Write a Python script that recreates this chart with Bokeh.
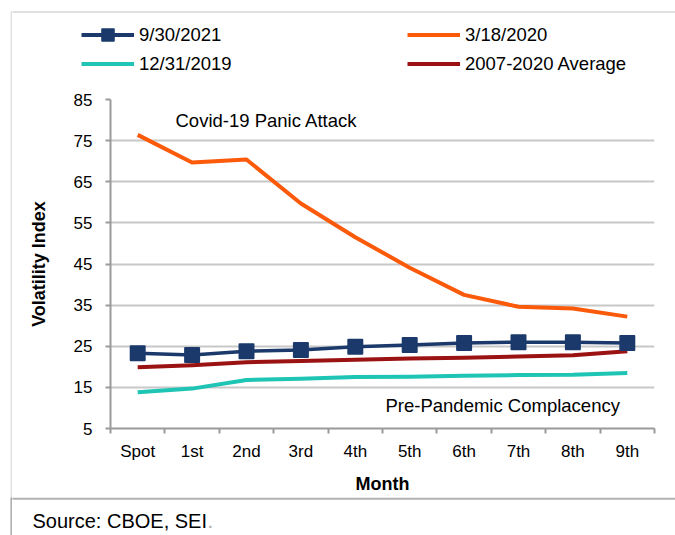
from bokeh.plotting import figure
from bokeh.layouts import row, column
from bokeh.models import (LinearAxis, FixedTicker, Legend, LegendItem, Label,
                          BoxAnnotation, FactorRange, Range1d, ColumnDataSource)
from bokeh.embed import file_html
from bokeh.resources import INLINE

# ---- data ----
months = ["Spot", "1st", "2nd", "3rd", "4th", "5th", "6th", "7th", "8th", "9th"]
sep2021 = [23.3, 22.9, 23.8, 24.1, 24.9, 25.3, 25.8, 26.0, 26.0, 25.8]
mar2020 = [76.4, 69.7, 70.4, 59.7, 51.5, 44.1, 37.5, 34.6, 34.2, 32.2]
dec2019 = [13.8, 14.7, 16.8, 17.1, 17.5, 17.6, 17.8, 18.0, 18.1, 18.5]
avg0720 = [19.9, 20.4, 21.1, 21.4, 21.7, 22.0, 22.2, 22.5, 22.8, 23.8]
y_ticks = [5, 15, 25, 35, 45, 55, 65, 75, 85]
series_names = ["9/30/2021", "3/18/2020", "12/31/2019", "2007-2020 Average"]

FONT = "Liberation Sans"
NAVY = "#1B3A6B"
ORANGE = "#FA5A0A"
TEAL = "#1EC4B4"
DRED = "#9A1212"
GRID = "#C8C8C8"
AXIS = "#9A9A9A"
FRAME = "#9A9A9A"


def bare(width, height):
    f = figure(width=width, height=height, x_range=Range1d(0, 1), y_range=Range1d(0, 1),
               x_axis_type=None, y_axis_type=None, output_backend="svg",
               toolbar_location=None, min_border=0, min_border_left=0,
               min_border_right=0, min_border_top=0, min_border_bottom=0,
               frame_align=False)
    f.outline_line_color = None
    f.background_fill_color = "white"
    f.border_fill_color = "white"
    return f


def box(l, t, r, b, color, w):
    return BoxAnnotation(left=l, right=r, top=t, bottom=b,
                         left_units="canvas", right_units="canvas",
                         top_units="canvas", bottom_units="canvas",
                         fill_alpha=0, line_color=color, line_width=w)


# ================= chart =================
p = figure(width=663, height=417,
           x_range=FactorRange(factors=months, range_padding=0),
           y_range=Range1d(5, 85),
           x_axis_type=None,
           output_backend="svg", toolbar_location=None,
           min_border_left=98, min_border_right=21,
           min_border_top=19, min_border_bottom=69,
           frame_align=False)
p.outline_line_color = None
p.background_fill_color = "white"
p.border_fill_color = "white"

ya = p.yaxis[0]
ya.ticker = FixedTicker(ticks=y_ticks)
ya.axis_label = "Volatility Index"
ya.axis_label_text_font = FONT
ya.axis_label_text_font_style = "bold"
ya.axis_label_text_font_size = "18px"
ya.axis_label_text_color = "black"
ya.axis_label_standoff = 22
ya.major_label_text_font = FONT
ya.major_label_text_font_size = "17px"
ya.major_label_text_color = "black"
ya.major_label_standoff = 13
ya.axis_line_color = AXIS
ya.axis_line_width = 2
ya.major_tick_line_color = AXIS
ya.major_tick_line_width = 2
ya.major_tick_out = 5
ya.major_tick_in = 0
ya.minor_tick_line_color = None
p.ygrid.ticker = FixedTicker(ticks=y_ticks)
p.ygrid.grid_line_color = GRID
p.ygrid.grid_line_width = 2

centers = [i + 0.5 for i in range(len(months))]
bounds = list(range(len(months) + 1))
xa = LinearAxis(ticker=FixedTicker(ticks=centers, minor_ticks=bounds),
                major_label_overrides={c: m for c, m in zip(centers, months)})
xa.axis_label = "Month"
xa.axis_label_text_font = FONT
xa.axis_label_text_font_style = "bold"
xa.axis_label_text_font_size = "18px"
xa.axis_label_text_color = "black"
xa.axis_label_standoff = 10
xa.major_label_text_font = FONT
xa.major_label_text_font_size = "17px"
xa.major_label_text_color = "black"
xa.major_label_standoff = 8
xa.axis_line_color = AXIS
xa.axis_line_width = 2
xa.major_tick_line_color = None
xa.major_tick_out = 5
xa.major_tick_in = 0
xa.minor_tick_line_color = AXIS
xa.minor_tick_line_width = 2
xa.minor_tick_out = 5
xa.minor_tick_in = 0
p.add_layout(xa, "below")

p.line(months, mar2020, line_color=ORANGE, line_width=4, line_join="round")
p.line(months, dec2019, line_color=TEAL, line_width=4, line_join="round")
p.line(months, avg0720, line_color=DRED, line_width=4, line_join="round")
p.line(months, sep2021, line_color=NAVY, line_width=3.5, line_join="round")
p.scatter(months, sep2021, marker="square", size=14, fill_color=NAVY,
          line_color=NAVY, line_width=2, line_join="round")

p.add_layout(Label(x=163, y=40, x_units="canvas", y_units="canvas",
                   text="Covid-19 Panic Attack", text_font=FONT, text_font_size="18.5px",
                   text_baseline="middle", text_color="black"))
p.add_layout(Label(x=373, y=325, x_units="canvas", y_units="canvas",
                   text="Pre-Pandemic Complacency", text_font=FONT, text_font_size="18.5px",
                   text_baseline="middle", text_color="black"))

# ================= legend strip (top) =================
top = bare(663, 80)
# legend keys: one undrawn (NaN) point each, styled like the chart series
nan = float("nan")
key_src = ColumnDataSource(data=dict(x=[nan], y=[nan]))
k_nl = top.line("x", "y", source=key_src, line_color=NAVY, line_width=4)
k_ns = top.scatter("x", "y", source=key_src, marker="square", size=14, fill_color=NAVY,
                   line_color=NAVY, line_width=2, line_join="round")
k_or = top.line("x", "y", source=key_src, line_color=ORANGE, line_width=4)
k_te = top.line("x", "y", source=key_src, line_color=TEAL, line_width=4)
k_dr = top.line("x", "y", source=key_src, line_color=DRED, line_width=4)


def make_legend(items, loc):
    return Legend(items=items, location=loc, orientation="vertical",
                  padding=0, margin=0, spacing=0, glyph_width=53, glyph_height=29,
                  label_height=29, label_standoff=5,
                  label_text_font=FONT, label_text_font_size="18.5px",
                  label_text_color="black", border_line_color=None,
                  background_fill_alpha=0)


top.add_layout(make_legend([LegendItem(label=series_names[0], renderers=[k_nl, k_ns]),
                            LegendItem(label=series_names[2], renderers=[k_te])], (69, 2)))
top.add_layout(make_legend([LegendItem(label=series_names[1], renderers=[k_or]),
                            LegendItem(label=series_names[3], renderers=[k_dr])], (395, 2)))
top.add_layout(box(-10, 11.5, 700, 300, FRAME, 2))

# ================= source strip (bottom) =================
bot = bare(663, 38)
bot.add_layout(box(-10, 1.2, 700, 300, "black", 2.3))
bot.add_layout(Label(x=20, y=23, x_units="canvas", y_units="canvas",
                     text="Source: CBOE, SEI", text_font=FONT, text_font_size="20px",
                     text_baseline="middle", text_color="black"))
bot.add_layout(Label(x=195, y=23, x_units="canvas", y_units="canvas",
                     text=".", text_font=FONT, text_font_size="20px",
                     text_baseline="middle", text_color="#A8A8A8"))

# ================= left frame strip =================
side = bare(12, 535)
side.add_layout(box(11, 11.5, 100, 498, FRAME, 2))
side.add_layout(box(11, 498, 100, 700, "black", 2.3))

layout = row(side, column(top, p, bot, spacing=0), spacing=0)

open("out.html", "w").write(file_html(layout, INLINE))
